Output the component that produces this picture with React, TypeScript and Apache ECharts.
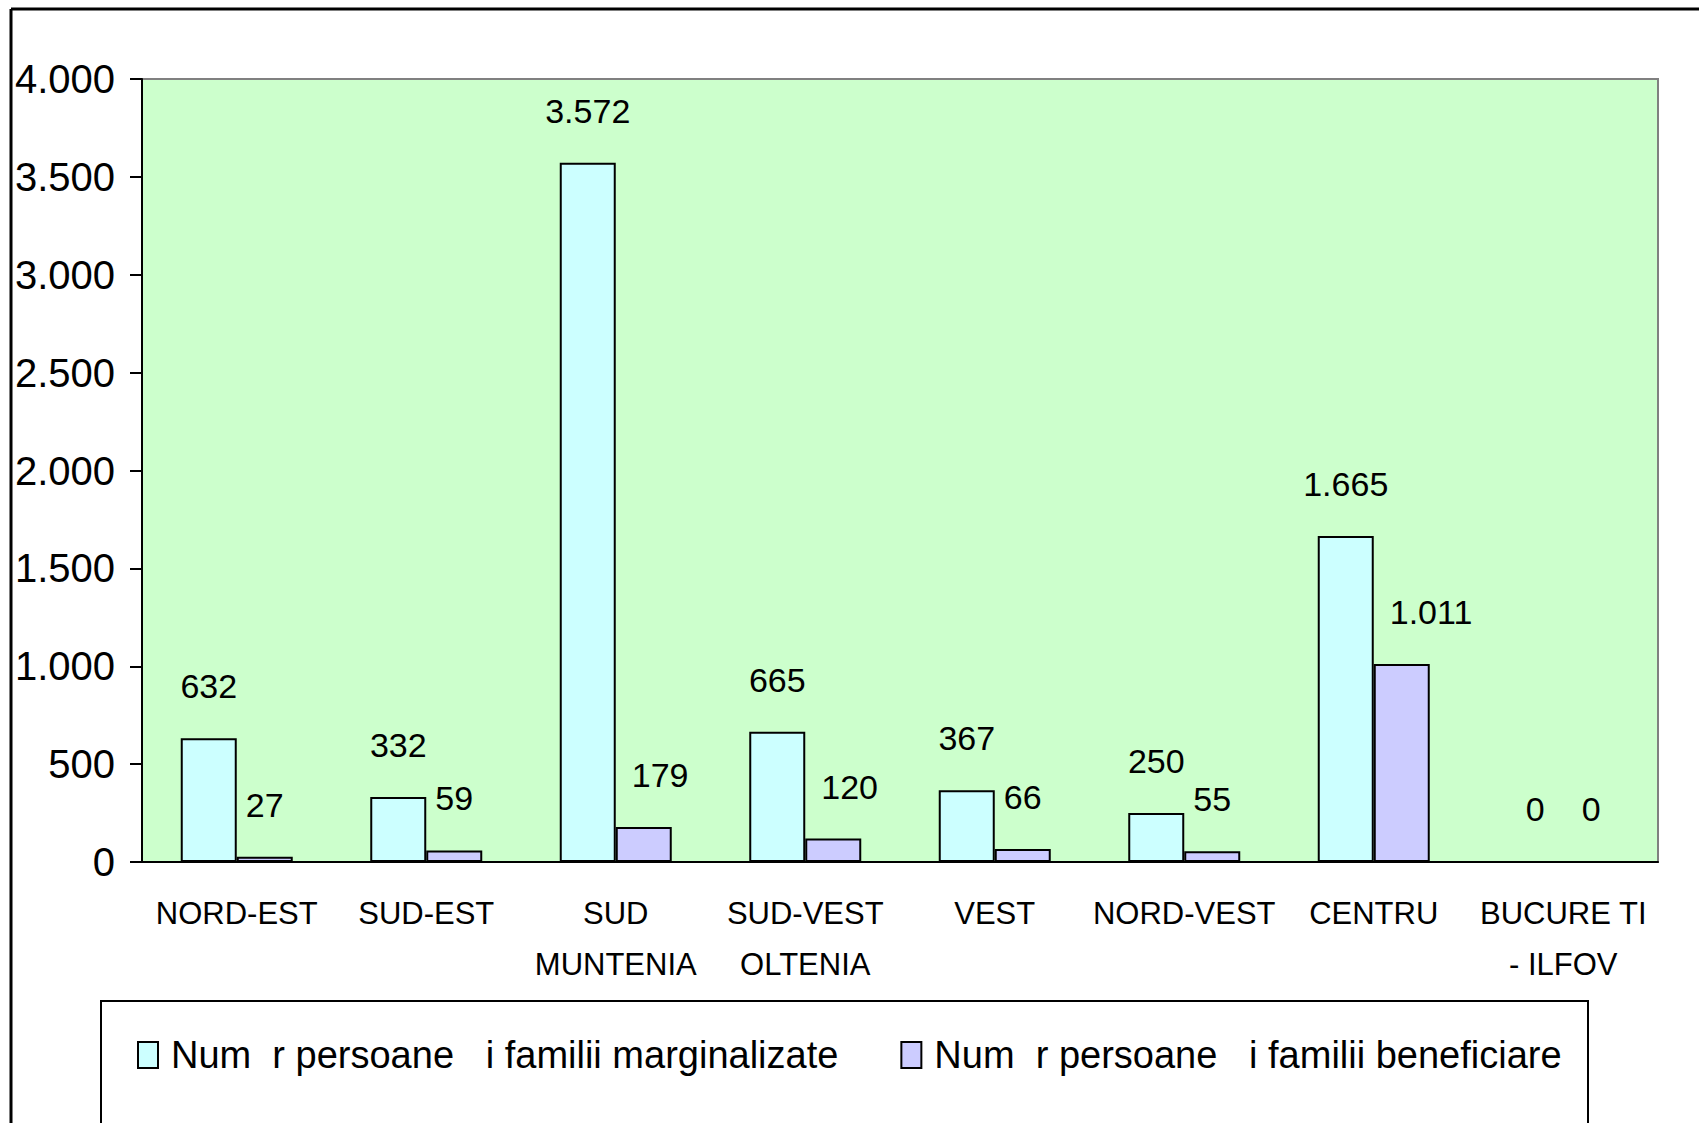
import React, { useEffect, useRef } from "react";
import * as echarts from "echarts";

const categories = [
  "NORD-EST",
  "SUD-EST",
  "SUD\nMUNTENIA",
  "SUD-VEST\nOLTENIA",
  "VEST",
  "NORD-VEST",
  "CENTRU",
  "BUCURE TI\n- ILFOV",
];
const marginalizate = [632, 332, 3572, 665, 367, 250, 1665, 0];
const beneficiare = [27, 59, 179, 120, 66, 55, 1011, 0];
const seriesNames = [
  "Num  r persoane   i familii marginalizate",
  "Num  r persoane   i familii beneficiare",
];

const FONT = "'Liberation Sans', Arial, sans-serif";

function fmt(v: number): string {
  return String(v).replace(/\B(?=(\d{3})+(?!\d))/g, ".");
}

export default function App() {
  const ref = useRef<HTMLDivElement>(null);
  useEffect(() => {
    if (!ref.current) return;
    const chart = echarts.init(ref.current, null, { renderer: "svg" });
    const labelCfg = {
      show: true,
      position: "top" as const,
      distance: 35,
      color: "#000",
      fontFamily: FONT,
      fontSize: 34,
      formatter: (p: any) => fmt(p.value),
    };
    chart.setOption({
      animation: false,
      backgroundColor: "#fff",
      textStyle: { fontFamily: FONT },
      grid: {
        left: 142,
        top: 79,
        right: 41,
        height: 783,
        show: true,
        backgroundColor: "#CCFFCC",
        borderColor: "#808080",
        borderWidth: 2,
        containLabel: false,
      },
      legend: {
        left: 132,
        top: 1031,
        itemWidth: 20,
        itemHeight: 26,
        itemGap: 62,
        icon: "rect",
        textStyle: {
          fontFamily: FONT,
          fontSize: 38,
          color: "#000",
          padding: [0, 0, 0, 8],
        },
        data: seriesNames,
      },
      xAxis: {
        type: "category",
        data: categories,
        axisLine: { lineStyle: { color: "#000", width: 2 } },
        axisTick: { length: 12, lineStyle: { color: "#000", width: 2 } },
        axisLabel: {
          color: "#000",
          fontFamily: FONT,
          fontSize: 31,
          lineHeight: 51,
          margin: 26,
          interval: 0,
        },
        splitLine: { show: false },
      },
      yAxis: {
        type: "value",
        min: 0,
        max: 4000,
        interval: 500,
        axisLine: { show: true, lineStyle: { color: "#000", width: 2 } },
        axisTick: { show: true, length: 12, lineStyle: { color: "#000", width: 2 } },
        axisLabel: {
          color: "#000",
          fontFamily: FONT,
          fontSize: 40,
          margin: 27,
          formatter: (v: number) => fmt(v),
        },
        splitLine: { show: false },
      },
      series: [
        {
          name: seriesNames[0],
          type: "bar",
          data: marginalizate,
          barWidth: 56,
          barGap: "0%",
          itemStyle: { color: "#CCFFFF", borderColor: "#000", borderWidth: 2 },
          label: labelCfg,
        },
        {
          name: seriesNames[1],
          type: "bar",
          data: beneficiare,
          barWidth: 56,
          barGap: "0%",
          itemStyle: { color: "#CCCCFF", borderColor: "#000", borderWidth: 2 },
          label: labelCfg,
          labelLayout: (params: any) => {
            if (params.labelRect.x >= params.rect.x) return {};
            return { dx: params.rect.x + 16 - params.labelRect.x };
          },
        },
      ],
      graphic: [
        {
          type: "line",
          shape: { x1: 11, y1: 9, x2: 1699, y2: 9 },
          style: { stroke: "#000", lineWidth: 3 },
        },
        {
          type: "line",
          shape: { x1: 11, y1: 9, x2: 11, y2: 1123 },
          style: { stroke: "#000", lineWidth: 3 },
        },
        {
          type: "rect",
          shape: { x: 101, y: 1001, width: 1487, height: 200 },
          style: { fill: "none", stroke: "#000", lineWidth: 2 },
        },
      ],
    });
    return () => chart.dispose();
  }, []);
  return (
    <div
      ref={ref}
      style={{ position: "absolute", left: 0, top: 0, width: 1699, height: 1123 }}
    />
  );
}
